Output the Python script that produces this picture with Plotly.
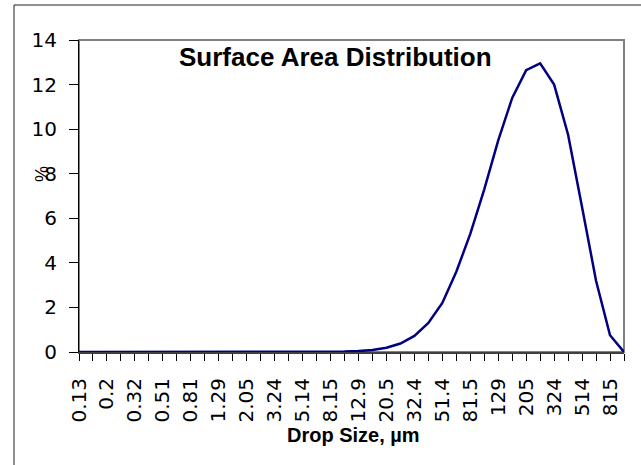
import plotly.graph_objects as go

# Drop size categories (µm); only every other one is labelled on the axis
categories = ["0.13", "0.16", "0.2", "0.26", "0.32", "0.41", "0.51", "0.65", "0.81", "1.03",
              "1.29", "1.63", "2.05", "2.58", "3.24", "4.08", "5.14", "6.47", "8.15", "10.3",
              "12.9", "16.3", "20.5", "25.8", "32.4", "40.8", "51.4", "64.7", "81.5", "103",
              "129", "163", "205", "259", "324", "411", "514", "647", "815", "1026"]
tick_labels = ["0.13", "", "0.2", "", "0.32", "", "0.51", "", "0.81", "",
               "1.29", "", "2.05", "", "3.24", "", "5.14", "", "8.15", "",
               "12.9", "", "20.5", "", "32.4", "", "51.4", "", "81.5", "",
               "129", "", "205", "", "324", "", "514", "", "815", ""]
surface_pct = [0, 0, 0, 0, 0, 0, 0, 0, 0, 0,
               0, 0, 0, 0, 0, 0, 0, 0, 0.005, 0.02,
               0.04, 0.09, 0.19, 0.38, 0.72, 1.3, 2.2, 3.6, 5.3, 7.3,
               9.5, 11.4, 12.65, 12.95, 12.0, 9.75, 6.5, 3.2, 0.75, 0.0]
y_ticks = [0, 2, 4, 6, 8, 10, 12, 14]

W, H = 641, 465
L, R, T, B = 79, 17, 40, 113
pw, ph = W - L - R, H - T - B

def px(x):
    return (x - L) / pw

def py(y):
    return (H - B - y) / ph

tick_font = dict(family="DejaVu Sans", size=20, color="black")

fig = go.Figure()
fig.add_trace(go.Scatter(
    x=categories, y=surface_pct, mode="lines",
    line=dict(color="#000080", width=2.5),
    cliponaxis=False, showlegend=False, hoverinfo="x+y",
))

fig.update_layout(
    width=W, height=H, autosize=False,
    margin=dict(l=L, r=R, t=T, b=B, pad=0),
    paper_bgcolor="white", plot_bgcolor="rgba(0,0,0,0)",
    showlegend=False,
    xaxis=dict(
        type="category", categoryorder="array", categoryarray=categories,
        range=[0, len(categories) - 1],
        tickmode="array", tickvals=categories, ticktext=tick_labels,
        tickangle=-90, tickfont=tick_font,
        ticks="outside", ticklen=7, tickwidth=1, tickcolor="black",
        ticklabelstandoff=9,
        showline=True, linecolor="#404040", linewidth=2,
        showgrid=False, zeroline=False,
    ),
    yaxis=dict(
        range=[0, 14], tickmode="array", tickvals=y_ticks,
        tickfont=tick_font,
        ticks="outside", ticklen=9, tickwidth=1, tickcolor="black",
        ticklabelstandoff=8,
        showline=True, linecolor="black", linewidth=1,
        showgrid=False, zeroline=False,
    ),
    xaxis2=dict(
        overlaying="x", anchor="y", range=[0, len(categories) - 1],
        tickmode="array", tickvals=list(range(len(categories))),
        ticks="inside", ticklen=7, tickwidth=1, tickcolor="black",
        showticklabels=False, showline=False, showgrid=False, zeroline=False,
    ),
    yaxis2=dict(
        overlaying="y", anchor="x", side="left", range=[0, 14],
        tickmode="array", tickvals=y_ticks,
        ticks="inside", ticklen=8, tickwidth=1, tickcolor="black",
        showticklabels=False, showline=False, showgrid=False, zeroline=False,
    ),
    shapes=[
        dict(type="rect", xref="paper", yref="paper", x0=0, y0=0, x1=1, y1=1,
             line=dict(color="#808080", width=2), layer="below"),
        dict(type="rect", xref="paper", yref="paper",
             x0=px(14), y0=py(470), x1=px(650), y1=py(5),
             line=dict(color="#202020", width=1), layer="below"),
    ],
    annotations=[
        dict(text="<b>Surface Area Distribution</b>", xref="paper", yref="paper",
             x=px(335), y=py(57), xanchor="center", yanchor="middle", showarrow=False,
             font=dict(family="Liberation Sans, Arial", size=26, color="black")),
        dict(text="<b>Drop Size, µm</b>", xref="paper", yref="paper",
             x=px(353), y=py(435), xanchor="center", yanchor="middle", showarrow=False,
             font=dict(family="Liberation Sans, Arial", size=20, color="black")),
        dict(text="%", xref="paper", yref="paper", textangle=-90,
             x=px(42), y=py(174), xanchor="center", yanchor="middle", showarrow=False,
             font=dict(family="Liberation Sans, Arial", size=18, color="black")),
    ],
)

fig.write_html("out.html", config={"displayModeBar": False},
               post_script="document.body.style.margin='0';document.body.style.padding='0';")
